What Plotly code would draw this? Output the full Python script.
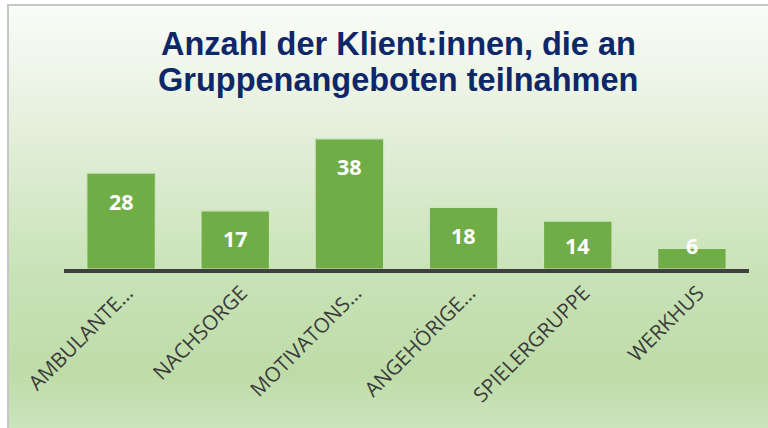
import base64
import plotly.graph_objects as go

categories = ["AMBULANTE…", "NACHSORGE", "MOTIVATONS…", "ANGEHÖRIGE…", "SPIELERGRUPPE", "WERKHUS"]
values = [28, 17, 38, 18, 14, 6]
title_lines = ["Anzahl der Klient:innen, die an", "Gruppenangeboten teilnahmen"]

W, H = 768, 428
ML, MR, MT, MB = 64, 19, 132, 159
PW, PH = W - ML - MR, H - MT - MB
YMAX = 40
scale = PH / YMAX

svg = f'''<svg xmlns="http://www.w3.org/2000/svg" width="{W}" height="{H}" viewBox="0 0 {W} {H}" preserveAspectRatio="none">
<defs><linearGradient id="g" x1="0" y1="0" x2="0" y2="1">
<stop offset="0" stop-color="#fafcf8"/>
<stop offset="0.3" stop-color="#e3efda"/>
<stop offset="0.62" stop-color="#c8e2b6"/>
<stop offset="0.84" stop-color="#bedca8"/>
<stop offset="1" stop-color="#d0e6c2"/>
</linearGradient></defs>
<rect x="0" y="0" width="{W}" height="{H}" fill="#ffffff"/>
<rect x="8" y="5" width="{W+10}" height="{H+10}" fill="url(#g)" stroke="#c6c6c6" stroke-width="2"/>
</svg>'''
src = "data:image/svg+xml;base64," + base64.b64encode(svg.encode()).decode()

fig = go.Figure()
fig.add_trace(go.Bar(
    x=categories, y=values,
    marker=dict(color="#70AD47", line=dict(color="#cfe6c0", width=1.2)),
    width=0.6, hoverinfo="skip",
))

label_font = dict(family="Open Sans", size=21.5, color="white", weight="bold")
annotations = []
for c, v in zip(categories, values):
    if v * scale - 28 >= 24:
        annotations.append(dict(x=c, y=v, yshift=-28, text=str(v), showarrow=False,
                                font=label_font, xref="x", yref="y", yanchor="middle"))
    else:
        annotations.append(dict(x=c, y=0, yshift=24, text=str(v), showarrow=False,
                                font=label_font, xref="x", yref="y", yanchor="middle"))

tx = (398 - ML) / PW
for line, ypx in zip(title_lines, [44, 80]):
    annotations.append(dict(x=tx, y=1 + (MT - ypx) / PH, xref="paper", yref="paper",
                            text=f"<b>{line}</b>", showarrow=False, yanchor="middle",
                            font=dict(family="Liberation Sans", size=32.5, color="#0D2769")))

fig.update_layout(
    width=W, height=H,
    margin=dict(l=ML, r=MR, t=MT, b=MB, pad=0),
    paper_bgcolor="white", plot_bgcolor="rgba(0,0,0,0)",
    showlegend=False,
    annotations=annotations,
    images=[dict(source=src, xref="paper", yref="paper", x=-ML / PW, y=1 + MT / PH,
                 sizex=W / PW, sizey=H / PH, sizing="stretch", xanchor="left", yanchor="top",
                 layer="below")],
    xaxis=dict(showline=True, linecolor="#404040", linewidth=3.8, tickangle=-45,
               tickfont=dict(family="Open Sans", size=20.5, color="#3a3a3a"),
               ticklabelshift=6,
               ticks="", showgrid=False, zeroline=False, fixedrange=True),
    yaxis=dict(range=[0, YMAX], visible=False, showgrid=False, zeroline=False),
)

fig.write_html("out.html", config={"displayModeBar": False},
               post_script="document.body.style.margin='0';document.body.style.overflow='hidden';")
